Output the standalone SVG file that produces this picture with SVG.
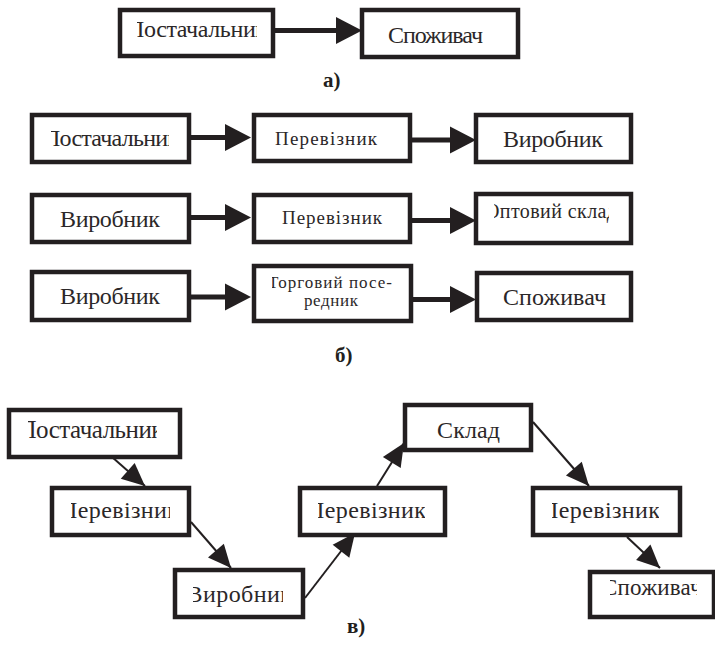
<svg xmlns="http://www.w3.org/2000/svg" width="715" height="648" viewBox="0 0 715 648">
<style>
.box{fill:#fff;stroke:#231f20;stroke-width:4.5}
.t{font-family:"Liberation Serif","DejaVu Serif","Times New Roman",serif;font-weight:normal;fill:#2b2728}
.lbl{font-family:"Liberation Serif","DejaVu Serif","Times New Roman",serif;font-weight:bold;font-size:21px;fill:#231f20}
.thick{stroke:#231f20;stroke-width:5;fill:none}
.thin{stroke:#231f20;stroke-width:2;fill:none}
</style>
<defs>
<marker id="hb" markerUnits="userSpaceOnUse" markerWidth="26" markerHeight="28" refX="0" refY="13.5" orient="auto" overflow="visible">
<path d="M0,0 L26,13.5 L0,27 z" fill="#231f20"/>
</marker>
<marker id="hs" markerUnits="userSpaceOnUse" markerWidth="24" markerHeight="22" refX="23" refY="10.5" orient="auto" overflow="visible">
<path d="M0,0 L23,10.5 L0,21 z" fill="#231f20"/>
</marker>
<clipPath id="c1"><rect x="137" y="10" width="120" height="46"/></clipPath>
<clipPath id="c2"><rect x="51" y="115" width="118" height="47"/></clipPath>
<clipPath id="c3"><rect x="494" y="194" width="115" height="49"/></clipPath>
<clipPath id="c4"><rect x="272" y="266" width="130" height="55"/></clipPath>
<clipPath id="c5"><rect x="28" y="410" width="129" height="47"/></clipPath>
<clipPath id="c6"><rect x="71" y="488" width="99" height="47"/></clipPath>
<clipPath id="c7"><rect x="193" y="570" width="90" height="47"/></clipPath>
<clipPath id="c8"><rect x="318" y="488" width="107" height="47"/></clipPath>
<clipPath id="c9"><rect x="552" y="488" width="107" height="47"/></clipPath>
<clipPath id="c10"><rect x="610" y="572" width="87" height="45"/></clipPath>
</defs>

<g id="connectors">
<line class="thick" x1="275" y1="30.5" x2="336" y2="30.5" marker-end="url(#hb)"/>
<line class="thick" x1="191" y1="137.5" x2="225" y2="137.5" marker-end="url(#hb)"/>
<line class="thick" x1="412" y1="140" x2="450" y2="140" marker-end="url(#hb)"/>
<line class="thick" x1="191" y1="217.5" x2="225" y2="217.5" marker-end="url(#hb)"/>
<line class="thick" x1="412" y1="220.5" x2="450" y2="220.5" marker-end="url(#hb)"/>
<line class="thick" x1="191" y1="297" x2="225" y2="297" marker-end="url(#hb)"/>
<line class="thick" x1="412" y1="299.5" x2="450" y2="299.5" marker-end="url(#hb)"/>
<line class="thin" x1="112" y1="457" x2="145" y2="486" marker-end="url(#hs)"/>
<line class="thin" x1="191" y1="522" x2="231" y2="568" marker-end="url(#hs)"/>
<line class="thin" x1="305" y1="598" x2="355" y2="533" marker-end="url(#hs)"/>
<line class="thin" x1="377" y1="486" x2="404" y2="443" marker-end="url(#hs)"/>
<line class="thin" x1="533" y1="422" x2="589" y2="486" marker-end="url(#hs)"/>
<line class="thin" x1="627" y1="537" x2="660" y2="568" marker-end="url(#hs)"/>
</g>

<g id="a-supplier">
<rect class="box" x="120" y="10" width="153" height="46"/>
<text class="t" font-size="24" x="127" y="37" textLength="140" clip-path="url(#c1)">Постачальник</text>
</g>
<g id="a-consumer">
<rect class="box" x="362" y="10" width="156" height="47"/>
<text class="t" font-size="24" x="388" y="43" textLength="95">Споживач</text>
</g>
<text class="lbl" x="323" y="87">а)</text>

<g id="b1-supplier">
<rect class="box" x="32" y="115" width="157" height="47"/>
<text class="t" font-size="24" x="43" y="146" textLength="136" clip-path="url(#c2)">Постачальник</text>
</g>
<g id="b1-carrier">
<rect class="box" x="254" y="115" width="156" height="46"/>
<text class="t" font-size="19" x="275" y="145" textLength="102">Перевізник</text>
</g>
<g id="b1-producer">
<rect class="box" x="476" y="115" width="155" height="47"/>
<text class="t" font-size="24" x="503" y="147" textLength="100">Виробник</text>
</g>

<g id="b2-producer">
<rect class="box" x="32" y="195" width="157" height="47"/>
<text class="t" font-size="24" x="60" y="227" textLength="100">Виробник</text>
</g>
<g id="b2-carrier">
<rect class="box" x="254" y="195" width="156" height="47"/>
<text class="t" font-size="19" x="282" y="224" textLength="100">Перевізник</text>
</g>
<g id="b2-warehouse">
<rect class="box" x="476" y="194" width="155" height="49"/>
<text class="t" font-size="20" x="485" y="218" textLength="132" clip-path="url(#c3)">Оптовий склад</text>
</g>

<g id="b3-producer">
<rect class="box" x="32" y="272" width="157" height="48"/>
<text class="t" font-size="24" x="60" y="304" textLength="100">Виробник</text>
</g>
<g id="b3-intermediary">
<rect class="box" x="254" y="266" width="157" height="55"/>
<g clip-path="url(#c4)">
<text class="t" font-size="17" x="268" y="288" textLength="124">Торговий посе-</text>
<text class="t" font-size="17" x="304" y="306" textLength="54">редник</text>
</g>
</g>
<g id="b3-consumer">
<rect class="box" x="477" y="273" width="154" height="47"/>
<text class="t" font-size="24" x="503" y="305" textLength="103">Споживач</text>
</g>
<text class="lbl" x="335" y="362">б)</text>

<g id="c-supplier">
<rect class="box" x="9" y="410" width="171" height="47"/>
<text class="t" font-size="25" x="18.5" y="438" textLength="145" clip-path="url(#c5)">Постачальник</text>
</g>
<g id="c-carrier1">
<rect class="box" x="52" y="488" width="137" height="47"/>
<text class="t" font-size="24" x="60" y="518" textLength="119" clip-path="url(#c6)">Перевізник</text>
</g>
<g id="c-producer">
<rect class="box" x="175" y="570" width="128" height="47"/>
<text class="t" font-size="24" x="186.5" y="602" textLength="105.5" clip-path="url(#c7)">Виробник</text>
</g>
<g id="c-carrier2">
<rect class="box" x="300" y="488" width="145" height="47"/>
<text class="t" font-size="24" x="307" y="518" textLength="119" clip-path="url(#c8)">Перевізник</text>
</g>
<g id="c-warehouse">
<rect class="box" x="405" y="405" width="126" height="45"/>
<text class="t" font-size="24" x="437" y="438" textLength="63">Склад</text>
</g>
<g id="c-carrier3">
<rect class="box" x="533" y="488" width="147" height="47"/>
<text class="t" font-size="24" x="541" y="518" textLength="119" clip-path="url(#c9)">Перевізник</text>
</g>
<g id="c-consumer">
<rect class="box" x="590" y="572" width="124" height="45"/>
<text class="t" font-size="23" x="602" y="595" textLength="99.7" clip-path="url(#c10)">Споживач</text>
</g>
<text class="lbl" x="347" y="633">в)</text>
</svg>
